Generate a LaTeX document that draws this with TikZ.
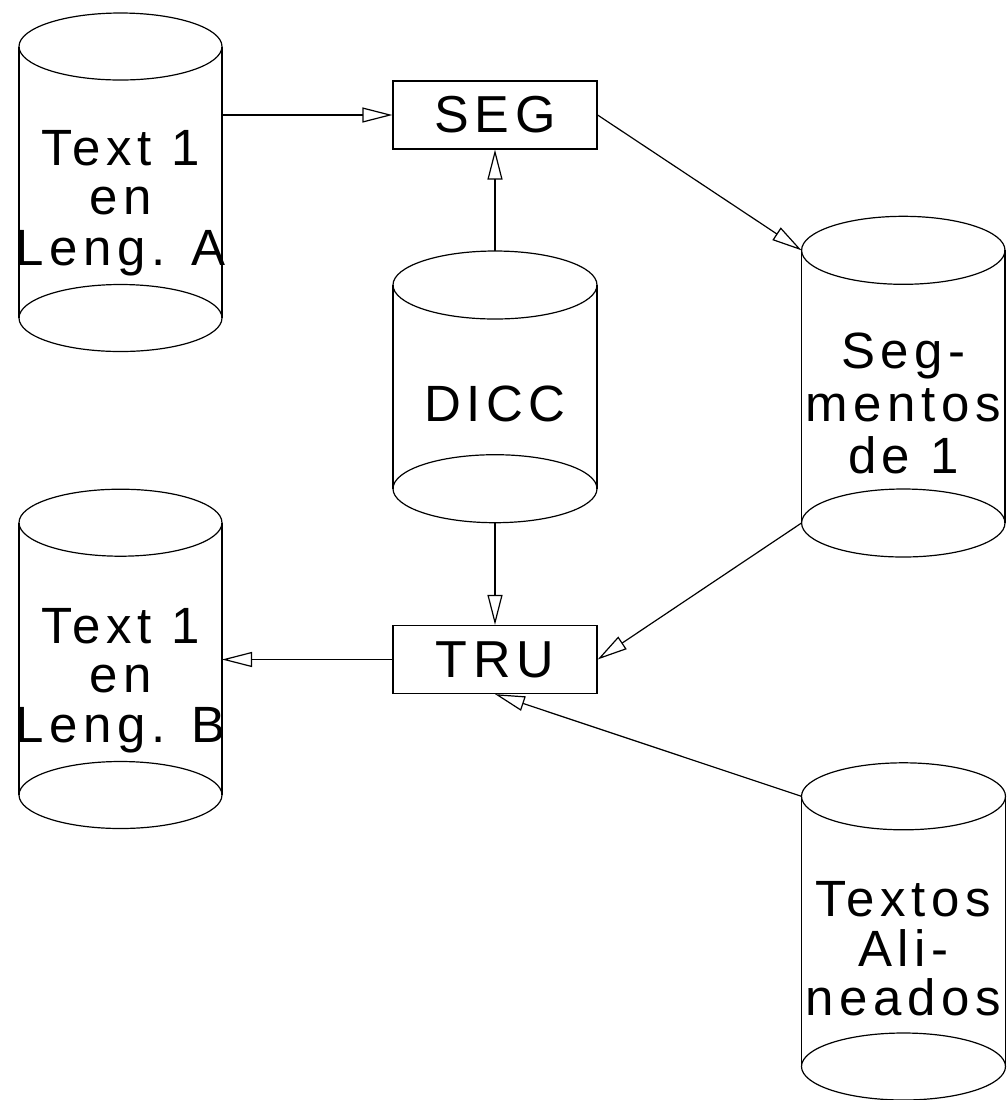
\documentclass[tikz,border=0pt]{standalone}
\usepackage{fontspec}
\setsansfont{Liberation Sans}[LetterSpace=11]
\usetikzlibrary{arrows.meta}
\begin{document}
\begin{tikzpicture}[x=0.5pt,y=-0.5pt,line width=0.6pt,
  lbl/.style={font=\fontsize{25.5}{25.5}\selectfont\sffamily,inner sep=0pt,anchor=base},
  box/.style={draw,minimum width=102pt,minimum height=34pt,inner sep=0pt,font=\fontsize{26}{26}\selectfont\sffamily},
  arr/.style={-{Triangle[open,length=15pt,width=7.5pt]}}]
\useasboundingbox (0,0) rectangle (1007,1100);

% cylinder A
\draw (19,46.5) -- (19,318) (222,46.5) -- (222,318);
\draw (120.5,46.5) ellipse [x radius=101.5,y radius=33.5];
\draw (120.5,318) ellipse [x radius=101.5,y radius=33.5];
\node[lbl] (a1) at (120.5,165) {Text 1};
\node[lbl] (a2) at (120.5,214) {en};
\node[lbl] (a3) at (120.5,265) {Leng. A};
\coordinate (A-out) at (222,115);

% cylinder B
\draw (19,522.7) -- (19,795) (222,522.7) -- (222,795);
\draw (120.5,522.7) ellipse [x radius=101.5,y radius=33.5];
\draw (120.5,795) ellipse [x radius=101.5,y radius=33.5];
\node[lbl] (b1) at (120.5,643) {Text 1};
\node[lbl] (b2) at (120.5,692) {en};
\node[lbl] (b3) at (120.5,742) {Leng. B};
\coordinate (B-in) at (222,659.5);

% cylinder DICC
\draw (393,285) -- (393,488.7) (597,285) -- (597,488.7);
\draw (495,285) ellipse [x radius=102,y radius=34];
\draw (495,488.7) ellipse [x radius=102,y radius=34];
\node[lbl] (d1) at (495,421.7) {DICC};
\coordinate (D-top) at (495,251);
\coordinate (D-bot) at (495,522.7);

% cylinder Segmentos
\draw (801.5,250.3) -- (801.5,523) (1005,250.3) -- (1005,523);
\draw (903.3,250.3) ellipse [x radius=101.7,y radius=34];
\draw (903.3,523) ellipse [x radius=101.7,y radius=34];
\node[lbl] (s1) at (903.3,368) {Seg-};
\node[lbl] (s2) at (903.3,421.7) {mentos};
\node[lbl] (s3) at (903.3,473) {de 1};
\coordinate (S-top) at (801.5,250.3);
\coordinate (S-bot) at (801.5,523);

% cylinder Textos
\draw (801.5,796.3) -- (801.5,1066.5) (1005.5,796.3) -- (1005.5,1066.5);
\draw (903.5,796.3) ellipse [x radius=102,y radius=33.5];
\draw (903.5,1066.5) ellipse [x radius=102,y radius=33.5];
\node[lbl] (t1) at (903.5,916) {Textos};
\node[lbl] (t2) at (903.5,966) {Ali-};
\node[lbl] (t3) at (903.5,1015) {neados};
\coordinate (T-top) at (801.5,796.3);

% boxes
\node[box] (seg) at (495,115) {SEG};
\node[box] (tru) at (495,659.5) {TRU};

% arrows
\draw[arr] (A-out) -- (seg.west);
\draw[arr] (D-top) -- (seg.south);
\draw[arr] (seg.east) -- (S-top);
\draw[arr] (S-bot) -- (tru.east);
\draw[arr] (D-bot) -- (tru.north);
\draw[arr] (tru.west) -- (B-in);
\draw[arr] (T-top) -- (tru.south);
\end{tikzpicture}
\end{document}
